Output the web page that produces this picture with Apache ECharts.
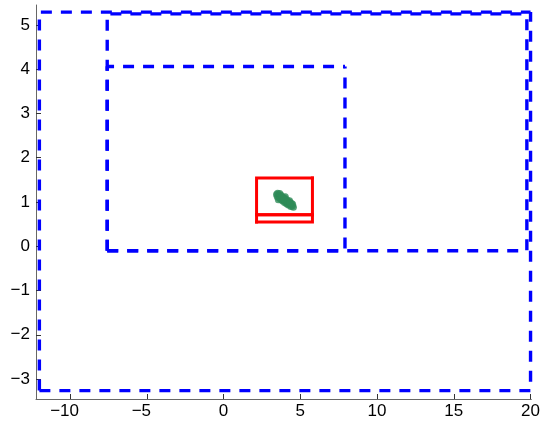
<!DOCTYPE html>
<html>
<head>
<meta charset="utf-8">
<script src="https://cdn.jsdelivr.net/npm/echarts@6/dist/echarts.min.js"></script>
<style>
html,body{margin:0;padding:0;background:#fff;}
#chart{width:543px;height:425px;}
</style>
</head>
<body>
<div id="chart"></div>
<script>
// Axis ranges and ticks
var xRange = [-12.22, 20.05];
var yRange = [-3.45, 5.45];
var xTicks = [-10, -5, 0, 5, 10, 15, 20];
var yTicks = [-3, -2, -1, 0, 1, 2, 3, 4, 5];

// Blue dashed rectangles [x0, y0, x1, y1]
var blueRects = [
  [-12.0, -3.26, 20.0, 5.29],
  [-7.58, -0.10, 19.76, 5.25],
  [-7.58, -0.10, 7.91, 4.06]
];

// Red rectangles [x0, y0, x1, y1]
var redRects = [
  [2.15, 0.71, 5.79, 1.54],
  [2.15, 0.55, 5.79, 0.71]
];

// Green points
var greenX = [3.45, 3.52, 3.50, 3.60, 3.62, 3.68, 3.72, 3.75, 3.80, 3.84, 3.88, 3.92, 3.97, 4.00, 4.05, 4.10, 4.12, 4.18, 4.22, 4.27, 4.32, 4.38, 4.42, 4.48, 4.55, 4.50, 3.57, 4.30, 3.66, 4.02, 3.78, 4.15, 4.35, 3.90];
var greenY = [1.17, 1.20, 1.12, 1.16, 1.09, 1.13, 1.06, 1.15, 1.08, 1.02, 1.11, 1.04, 0.99, 1.08, 1.01, 0.96, 1.05, 0.98, 0.93, 1.00, 0.94, 0.90, 0.97, 0.91, 0.88, 0.95, 1.05, 1.03, 1.19, 1.12, 1.11, 1.01, 0.97, 1.07];

// two polylines per rectangle, both starting from the lower-left corner
function leftTop(r) { return [[r[0], r[1]], [r[0], r[3]], [r[2], r[3]]]; }
function bottomRight(r) { return [[r[0], r[1]], [r[2], r[1]], [r[2], r[3]]]; }
function fmt(v) {
  return v < 0 ? '\u2212' + Math.abs(v) : String(v);
}
function fmtX(v) {
  return v < 0 ? '{neg|' + fmt(v) + '}' : String(v);
}

var series = [];
blueRects.forEach(function (r) {
  [leftTop(r), bottomRight(r)].forEach(function (d) {
    series.push({
      type: 'line', data: d, symbol: 'none', silent: true, z: 2,
      lineStyle: { color: '#0000ff', width: 3.4, type: [11, 9] }
    });
  });
});
redRects.forEach(function (r) {
  [leftTop(r), bottomRight(r)].forEach(function (d) {
    series.push({
      type: 'line', data: d, symbol: 'none', silent: true, z: 3,
      lineStyle: { color: '#ff0000', width: 3, cap: 'square', join: 'miter' }
    });
  });
});
series.push({
  type: 'scatter', z: 4, symbolSize: 7,
  data: greenX.map(function (x, i) { return [x, greenY[i]]; }),
  itemStyle: { color: '#2e8b57' }
});

var font = 'Liberation Sans, Arial, sans-serif';
var chart = echarts.init(document.getElementById('chart'), null, { renderer: 'canvas' });
chart.setOption({
  animation: false,
  backgroundColor: '#ffffff',
  grid: { left: 36, right: 10, top: 5, bottom: 26, containLabel: false },
  xAxis: {
    type: 'value', min: xRange[0], max: xRange[1],
    axisLine: { show: true, onZero: false, lineStyle: { color: '#666', width: 1 } },
    axisTick: { show: true, inside: true, length: 5, lineStyle: { color: '#333' },
      customValues: xTicks },
    axisLabel: { show: true, margin: 4, fontSize: 17, color: '#000', fontFamily: font,
      showMinLabel: true, showMaxLabel: true, customValues: xTicks,
      formatter: function (v) { return fmtX(v); },
      rich: { neg: { fontSize: 17, color: '#000', fontFamily: font, padding: [0, 11, 0, 0] } } },
    splitLine: { show: false }
  },
  yAxis: {
    type: 'value', min: yRange[0], max: yRange[1],
    axisLine: { show: true, onZero: false, lineStyle: { color: '#666', width: 1 } },
    axisTick: { show: true, inside: true, length: 5, lineStyle: { color: '#333' },
      customValues: yTicks },
    axisLabel: { show: true, margin: 6, fontSize: 17, color: '#000', fontFamily: font,
      showMinLabel: true, showMaxLabel: true, customValues: yTicks,
      formatter: function (v) { return fmt(v); } },
    splitLine: { show: false }
  },
  series: series
});
</script>
</body>
</html>
